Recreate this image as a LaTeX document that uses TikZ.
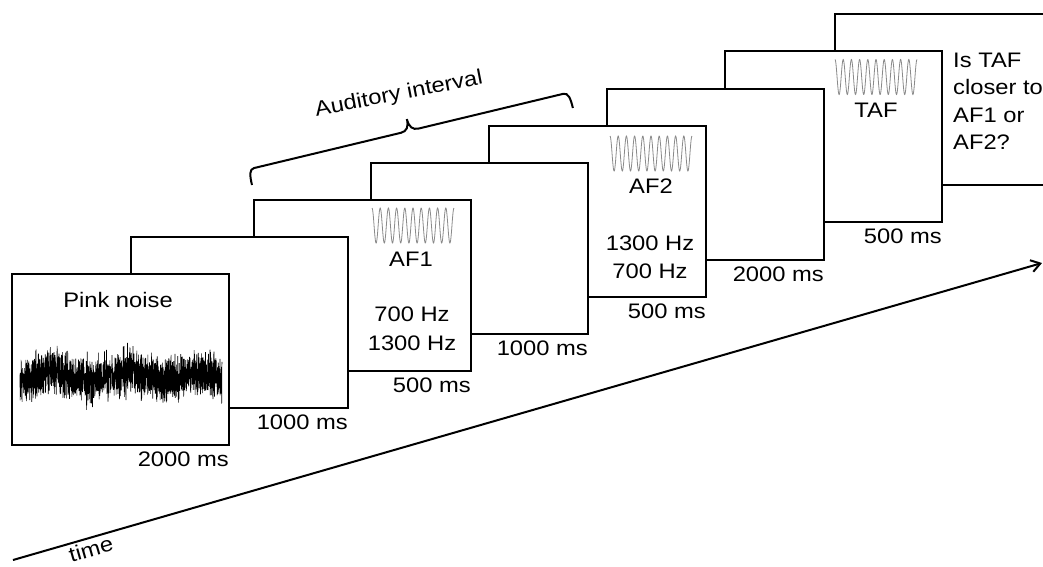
\documentclass[tikz,border=0pt]{standalone}
\usepackage{fontspec}
\setmainfont[FakeStretch=1.13]{Liberation Sans}
\usetikzlibrary{arrows.meta, positioning, calc, decorations.pathreplacing}
\definecolor{c1}{HTML}{000000}
\definecolor{c2}{HTML}{8A8A8A}

\begin{document}
\begin{tikzpicture}[
    x=1pt, y=-1pt,
    every node/.style={font=\fontsize{21}{27}\selectfont, text=c1},
    screen/.style={draw=c1, fill=white, line width=2.6pt, anchor=north west,
                   minimum width=217pt, minimum height=171pt, inner sep=0pt, outer sep=0pt},
    dur/.style={anchor=base east, inner sep=0pt},
    txt/.style={anchor=base, inner sep=0pt},
]
\useasboundingbox (0,0) rectangle (1043,566);

% a pure tone: left end #1, centre line #2 (ten cycles over 82pt)
\newcommand{\tone}[2]{%
  \draw[c2, line width=0.8pt] plot[domain=0:82, samples=300, smooth]
      ({#1+\x}, {#2 - 17.5*cos(\x*43.9)});}

% the eight screens, back to front (top left corners)
\foreach \i/\sx/\sy in {7/835/14, 6/725/51, 5/607/89, 4/489/126,
                        3/371/163, 2/254/200, 1/131/237, 0/12/274}{
    \node[screen] (scr\i) at (\sx, \sy) {};}

% how long each one stays
\foreach \i/\ms in {0/2000, 1/1000, 2/500, 3/1000, 4/500, 5/2000, 6/500}{
    \node[dur] (dur\i) at ([yshift=-21pt]scr\i.south east) {\ms\ ms};}

% pink noise
\node[txt] (pink) at (118, 307) {Pink noise};
\pgfmathsetseed{11}
\draw[c1, line width=0.6pt] plot[domain=20:222, samples=2000]
    (\x, {376 + 4*sin(\x*5) + 16*rand + 10*rand + 12*rand*rand*rand});

% first and second frequency
\tone{372}{225.5}
\node[txt] (af1) at (411, 266) {AF1};
\node[txt] (lo1) at (412, 321) {700 Hz};
\node[txt] (hi1) at (412, 350) {1300 Hz};

\tone{610}{153.5}
\node[txt] (af2) at (651, 193) {AF2};
\node[txt] (hi2) at (650, 250) {1300 Hz};
\node[txt] (lo2) at (650, 278) {700 Hz};

% target
\tone{835}{77}
\node[txt] (taf) at (876, 117) {TAF};

% the question
\foreach \lbl [count=\k] in {Is TAF, closer to, AF1 or, AF2?}{
    \node[anchor=base west, inner sep=0pt] (q\k) at (953, {39.5 + \k*27.5}) {\lbl};}

% auditory interval, a brace with tight curls
\coordinate (b0) at (252, 185);
\coordinate (b1) at (573, 108);
\begin{scope}[shift={(b0)}, rotate=13.5]
  \draw[c1, line width=2pt] (0,0) .. controls (0,-10) and (1,-16) .. (6,-16)
      -- (157,-16) .. controls (163,-16) and (166,-20) .. (166,-28)
      .. controls (166,-20) and (169,-16) .. (175,-16)
      -- (324,-16) .. controls (329,-16) and (330,-10) .. (330,0);
\end{scope}
\node[txt, rotate=11] (aud) at (400, 100) {Auditory interval};

% time axis
\coordinate (t0) at (13, 560);
\coordinate (t1) at (1042, 263);
\draw[c1, line width=2pt, -{Straight Barb[length=9pt, width=12pt]}] (t0) -- (t1);
\node[txt, rotate=16] (time) at (93, 556.5) {time};
\end{tikzpicture}
\end{document}
